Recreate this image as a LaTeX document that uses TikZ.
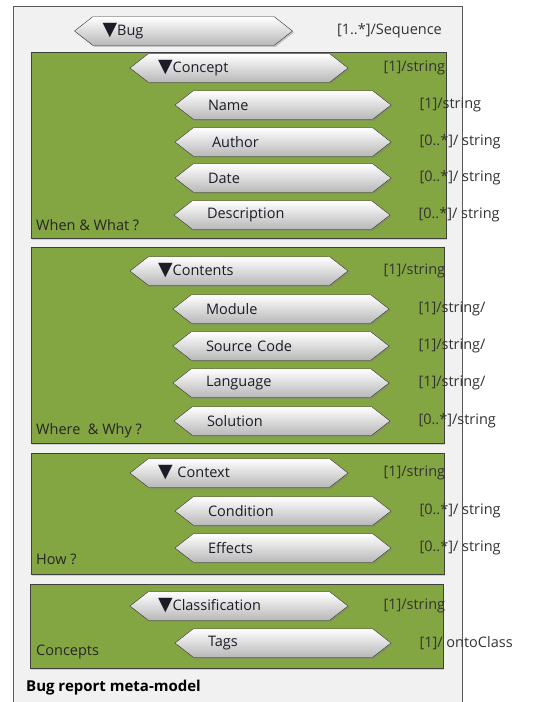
\documentclass[tikz,border=0pt]{standalone}
\usepackage{fontspec}
\setmainfont{Open Sans}
\newfontfamily\symfont{DejaVu Sans}
\usetikzlibrary{shapes.symbols, shadows, positioning}
\definecolor{leaf}{RGB}{131,165,66}
\definecolor{pane}{RGB}{241,241,241}
\definecolor{ink}{RGB}{28,28,40}
\newcommand{\tri}{{\symfont\fontsize{19}{19}\selectfont ▼}}

\begin{document}
\begin{tikzpicture}[x=1pt, y=-1pt,
    group/.style={draw=black!75, fill=leaf, drop shadow={shadow xshift=1pt, shadow yshift=-1.5pt, opacity=.3}},
    tag/.style={shape=signal, signal to=west and east, signal pointer angle=76, draw=black!80,
      top color=white, bottom color=black!28, minimum height=28.5pt, inner sep=0pt, text=ink,
      font=\fontsize{14.5}{16}\selectfont, align=left,
      drop shadow={shadow xshift=1.5pt, shadow yshift=-1.5pt, opacity=.4}},
    head/.style={tag, minimum width=218pt, text width=162pt},
    item/.style={tag, minimum width=216pt, text width=150pt},
    card/.style={font=\fontsize{14.5}{16}\selectfont, text=black!80, inner sep=0pt},
    topic/.style={font=\fontsize{14.5}{16}\selectfont, text=black!85, anchor=west, inner sep=0pt}
  ]
  \useasboundingbox (0,0) rectangle (544,702);
  % frame
  \fill[pane] (13,702) -- (13,6) -- (462,6) -- (462,702) -- cycle;
  \draw[black!65] (13,702) -- (13,6) -- (462,6) -- (462,702);
  \node[head] (bug) at (183.5,31) {\tri Bug};
  \node[card, right=44pt of bug] (bugcard) {[1..*]/Sequence};

  % green groups
  \draw[group] (31,52) rectangle (446,238);
  \draw[group] (31,247) rectangle (444,443);
  \draw[group] (31,453) rectangle (444,574);
  \draw[group] (30,584) rectangle (443,668);

  % When & What
  \node[head] (concept) at (239,68) {\tri Concept};
  \node[item] (name) at (283,105) {Name};
  \node[item] (author) at (283,142) {\hspace{4pt}Author};
  \node[item] (date) at (283,178) {Date};
  \node[item] (descr) at (282,215) {Description};
  \node[topic] (whenwhat) at (36,225) {When \& What ?};
  \node[card, right=35pt of concept] (conceptcard) {[1]/string};
  \node[card, right=28pt of name] (namecard) {[1]/string};
  \node[card, right=28pt of author] (authorcard) {[0..*]/ string};
  \node[card, right=28pt of date] (datecard) {[0..*]/ string};
  \node[card, right=28pt of descr] (descrcard) {[0..*]/ string};

  % Where & Why
  \node[head] (contents) at (239,271) {\tri Contents};
  \node[item] (module) at (281,309) {Module};
  \node[item] (source) at (281,346) {Source Code};
  \node[item] (lang) at (281,383) {Language};
  \node[item] (solution) at (282,421) {Solution};
  \node[topic] (wherewhy) at (36,431) {Where\ \ \& Why ?};
  \node[card, right=35pt of contents] (contentscard) {[1]/string};
  \node[card, right=29pt of module] (modulecard) {[1]/string/};
  \node[card, right=29pt of source] (sourcecard) {[1]/string/};
  \node[card, right=29pt of lang] (langcard) {[1]/string/};
  \node[card, right=28pt of solution] (solutioncard) {[0..*]/string};

  % How
  \node[head] (context) at (239,473) {\tri\ Context};
  \node[item] (cond) at (283,511) {Condition};
  \node[item] (effects) at (283,548) {Effects};
  \node[topic] (how) at (36,559) {How ?};
  \node[card, right=35pt of context] (contextcard) {[1]/string};
  \node[card, right=28pt of cond] (condcard) {[0..*]/ string};
  \node[card, right=28pt of effects] (effectscard) {[0..*]/ string};

  % Concepts
  \node[head] (classif) at (239,606) {\tri Classification};
  \node[item] (tags) at (283,643) {Tags};
  \node[topic] (concepts) at (36,652) {Concepts};
  \node[card, right=35pt of classif] (classifcard) {[1]/string};
  \node[card, right=28pt of tags] (tagscard) {[1]/ ontoClass};

  \node[topic, font=\fontsize{15}{16}\selectfont\bfseries, text=black] (title) at (26,688) {Bug report meta-model};
\end{tikzpicture}
\end{document}
